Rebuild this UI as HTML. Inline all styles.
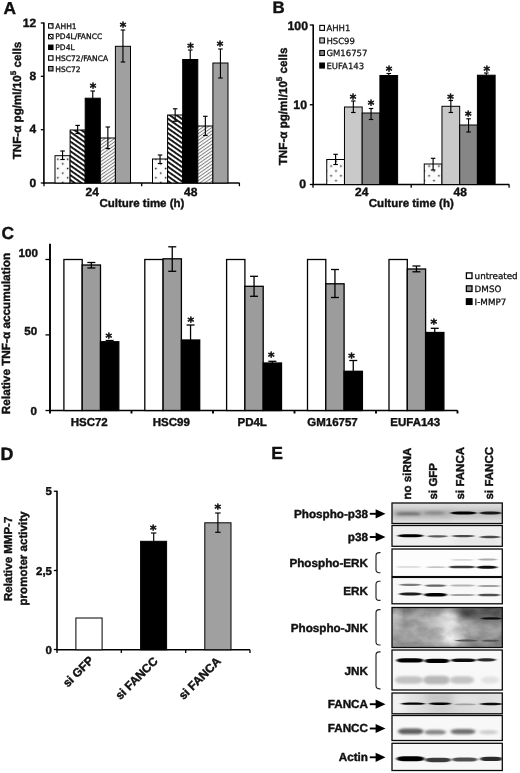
<!DOCTYPE html>
<html lang="en"><head><meta charset="utf-8"><title>Figure</title>
<style>
html,body{margin:0;padding:0;background:#fff;}
body{width:520px;height:773px;overflow:hidden;font-family:"Liberation Sans",Arial,sans-serif;}
svg{display:block}
</style></head><body>
<svg width="520" height="773" viewBox="0 0 520 773" text-rendering="geometricPrecision">
<rect width="520" height="773" fill="#fff"/>
<defs>
<pattern id="dots" width="9.8" height="9.3" patternUnits="userSpaceOnUse" x="60.2" y="161.5">
<rect width="9.8" height="9.3" fill="#fcfcfc"/>
<rect x="1.8" y="1.6" width="1.5" height="1.5" fill="#1a1a1a"/>
<rect x="6.7" y="6.25" width="1.5" height="1.5" fill="#1a1a1a"/>
</pattern>
<pattern id="dotsB" width="9.8" height="9.7" patternUnits="userSpaceOnUse" x="328.6" y="163.6">
<rect width="9.8" height="9.7" fill="#fcfcfc"/>
<rect x="1.75" y="1.75" width="1.5" height="1.5" fill="#1a1a1a"/>
<rect x="6.65" y="6.6" width="1.5" height="1.5" fill="#1a1a1a"/>
</pattern>
<pattern id="hb" width="3.93" height="3.93" patternUnits="userSpaceOnUse" patternTransform="rotate(35)">
<rect width="3.93" height="3.93" fill="#fff"/>
<rect width="3.93" height="1.85" fill="#0d0d0d"/>
</pattern>
<pattern id="hf" width="2.75" height="2.75" patternUnits="userSpaceOnUse" patternTransform="rotate(-35)">
<rect width="2.75" height="2.75" fill="#f8f8f8"/>
<rect width="2.75" height="0.9" fill="#808080"/>
</pattern>
<filter id="b1" x="-20%" y="-100%" width="140%" height="300%"><feGaussianBlur stdDeviation="1.1 0.8"/></filter>
<filter id="b2" x="-20%" y="-100%" width="140%" height="300%"><feGaussianBlur stdDeviation="1.8 1.4"/></filter>
<filter id="b3" x="-30%" y="-50%" width="160%" height="200%"><feGaussianBlur stdDeviation="4"/></filter>
<filter id="b4" x="-30%" y="-50%" width="160%" height="200%"><feGaussianBlur stdDeviation="7"/></filter>
</defs>
<text x="3.40" y="14.20" font-size="17.3" text-anchor="start" font-family="Liberation Sans, Arial, sans-serif" font-weight="bold" stroke="#111" stroke-width="0.4" fill="#111" >A</text>
<line x1="43.90" y1="22.50" x2="43.90" y2="183.50" stroke="#000" stroke-width="1.6"/>
<line x1="43.20" y1="183.00" x2="239.60" y2="183.00" stroke="#000" stroke-width="1.5"/>
<line x1="40.80" y1="23.00" x2="44.00" y2="23.00" stroke="#000" stroke-width="1.3"/>
<text x="36.20" y="26.70" font-size="12" text-anchor="end" font-family="Liberation Sans, Arial, sans-serif" font-weight="bold" stroke="#111" stroke-width="0.4" fill="#111" >12</text>
<line x1="40.80" y1="76.30" x2="44.00" y2="76.30" stroke="#000" stroke-width="1.3"/>
<text x="36.20" y="80.00" font-size="12" text-anchor="end" font-family="Liberation Sans, Arial, sans-serif" font-weight="bold" stroke="#111" stroke-width="0.4" fill="#111" >8</text>
<line x1="40.80" y1="129.70" x2="44.00" y2="129.70" stroke="#000" stroke-width="1.3"/>
<text x="36.20" y="133.40" font-size="12" text-anchor="end" font-family="Liberation Sans, Arial, sans-serif" font-weight="bold" stroke="#111" stroke-width="0.4" fill="#111" >4</text>
<line x1="40.80" y1="183.00" x2="44.00" y2="183.00" stroke="#000" stroke-width="1.3"/>
<text x="36.20" y="186.70" font-size="12" text-anchor="end" font-family="Liberation Sans, Arial, sans-serif" font-weight="bold" stroke="#111" stroke-width="0.4" fill="#111" >0</text>
<line x1="44.00" y1="183.00" x2="44.00" y2="186.20" stroke="#000" stroke-width="1.3"/>
<line x1="141.70" y1="183.00" x2="141.70" y2="186.20" stroke="#000" stroke-width="1.3"/>
<line x1="239.40" y1="183.00" x2="239.40" y2="186.20" stroke="#000" stroke-width="1.3"/>
<rect x="55.00" y="155.70" width="15.10" height="27.30" fill="url(#dots)" stroke="#000" stroke-width="1.0" />
<line x1="62.55" y1="151.00" x2="62.55" y2="159.50" stroke="#000" stroke-width="1.15"/>
<line x1="60.30" y1="151.00" x2="64.80" y2="151.00" stroke="#000" stroke-width="1.15"/>
<line x1="60.30" y1="159.50" x2="64.80" y2="159.50" stroke="#000" stroke-width="1.15"/>
<rect x="70.10" y="130.00" width="15.10" height="53.00" fill="url(#hb)" stroke="#000" stroke-width="1.0" />
<line x1="77.65" y1="125.40" x2="77.65" y2="133.50" stroke="#000" stroke-width="1.15"/>
<line x1="75.40" y1="125.40" x2="79.90" y2="125.40" stroke="#000" stroke-width="1.15"/>
<line x1="75.40" y1="133.50" x2="79.90" y2="133.50" stroke="#000" stroke-width="1.15"/>
<rect x="85.20" y="98.20" width="15.10" height="84.80" fill="#000" stroke="#000" stroke-width="1.0" />
<line x1="92.75" y1="91.00" x2="92.75" y2="98.20" stroke="#000" stroke-width="1.15"/>
<line x1="90.45" y1="91.00" x2="95.05" y2="91.00" stroke="#000" stroke-width="1.15"/>
<rect x="100.30" y="138.00" width="15.10" height="45.00" fill="url(#hf)" stroke="#000" stroke-width="1.0" />
<line x1="107.85" y1="127.00" x2="107.85" y2="148.60" stroke="#000" stroke-width="1.15"/>
<line x1="105.60" y1="127.00" x2="110.10" y2="127.00" stroke="#000" stroke-width="1.15"/>
<line x1="105.60" y1="148.60" x2="110.10" y2="148.60" stroke="#000" stroke-width="1.15"/>
<rect x="115.40" y="46.30" width="15.10" height="136.70" fill="#a0a0a0" stroke="#000" stroke-width="1.0" />
<line x1="122.95" y1="30.00" x2="122.95" y2="62.00" stroke="#000" stroke-width="1.15"/>
<line x1="120.70" y1="30.00" x2="125.20" y2="30.00" stroke="#000" stroke-width="1.15"/>
<line x1="120.70" y1="62.00" x2="125.20" y2="62.00" stroke="#000" stroke-width="1.15"/>
<rect x="152.50" y="159.00" width="15.10" height="24.00" fill="url(#dots)" stroke="#000" stroke-width="1.0" />
<line x1="160.05" y1="155.00" x2="160.05" y2="163.50" stroke="#000" stroke-width="1.15"/>
<line x1="157.80" y1="155.00" x2="162.30" y2="155.00" stroke="#000" stroke-width="1.15"/>
<line x1="157.80" y1="163.50" x2="162.30" y2="163.50" stroke="#000" stroke-width="1.15"/>
<rect x="167.60" y="115.00" width="15.10" height="68.00" fill="url(#hb)" stroke="#000" stroke-width="1.0" />
<line x1="175.15" y1="108.80" x2="175.15" y2="121.30" stroke="#000" stroke-width="1.15"/>
<line x1="172.90" y1="108.80" x2="177.40" y2="108.80" stroke="#000" stroke-width="1.15"/>
<line x1="172.90" y1="121.30" x2="177.40" y2="121.30" stroke="#000" stroke-width="1.15"/>
<rect x="182.70" y="59.50" width="15.10" height="123.50" fill="#000" stroke="#000" stroke-width="1.0" />
<line x1="190.25" y1="50.00" x2="190.25" y2="59.50" stroke="#000" stroke-width="1.15"/>
<line x1="187.95" y1="50.00" x2="192.55" y2="50.00" stroke="#000" stroke-width="1.15"/>
<rect x="197.80" y="126.00" width="15.10" height="57.00" fill="url(#hf)" stroke="#000" stroke-width="1.0" />
<line x1="205.35" y1="116.30" x2="205.35" y2="135.50" stroke="#000" stroke-width="1.15"/>
<line x1="203.10" y1="116.30" x2="207.60" y2="116.30" stroke="#000" stroke-width="1.15"/>
<line x1="203.10" y1="135.50" x2="207.60" y2="135.50" stroke="#000" stroke-width="1.15"/>
<rect x="212.90" y="63.00" width="15.10" height="120.00" fill="#a0a0a0" stroke="#000" stroke-width="1.0" />
<line x1="220.45" y1="49.00" x2="220.45" y2="78.00" stroke="#000" stroke-width="1.15"/>
<line x1="218.20" y1="49.00" x2="222.70" y2="49.00" stroke="#000" stroke-width="1.15"/>
<line x1="218.20" y1="78.00" x2="222.70" y2="78.00" stroke="#000" stroke-width="1.15"/>
<text x="93.00" y="91.75" font-size="12.5" text-anchor="middle" font-family="DejaVu Sans, Verdana, sans-serif" font-weight="bold" fill="#111" stroke="#111" stroke-width="0.5">*</text>
<text x="123.00" y="30.75" font-size="12.5" text-anchor="middle" font-family="DejaVu Sans, Verdana, sans-serif" font-weight="bold" fill="#111" stroke="#111" stroke-width="0.5">*</text>
<text x="190.50" y="51.75" font-size="12.5" text-anchor="middle" font-family="DejaVu Sans, Verdana, sans-serif" font-weight="bold" fill="#111" stroke="#111" stroke-width="0.5">*</text>
<text x="220.00" y="50.25" font-size="12.5" text-anchor="middle" font-family="DejaVu Sans, Verdana, sans-serif" font-weight="bold" fill="#111" stroke="#111" stroke-width="0.5">*</text>
<text x="92.30" y="196.00" font-size="12" text-anchor="middle" font-family="Liberation Sans, Arial, sans-serif" font-weight="bold" stroke="#111" stroke-width="0.4" fill="#111" >24</text>
<text x="190.70" y="195.90" font-size="12" text-anchor="middle" font-family="Liberation Sans, Arial, sans-serif" font-weight="bold" stroke="#111" stroke-width="0.4" fill="#111" >48</text>
<text x="141.90" y="207.10" font-size="11.5" text-anchor="middle" font-family="Liberation Sans, Arial, sans-serif" font-weight="bold" stroke="#111" stroke-width="0.4" fill="#111" >Culture time (h)</text>
<text transform="translate(20.8,100.5) rotate(-90)" font-size="11.65" text-anchor="middle" font-family="Liberation Sans, Arial, sans-serif" font-weight="bold" stroke="#111" stroke-width="0.4" fill="#111">TNF-α pg/ml/10<tspan font-size="8" dy="-4.5">5</tspan><tspan dy="4.5"> cells</tspan></text>
<rect x="48.60" y="23.70" width="4.40" height="4.40" fill="#fff" stroke="#000" stroke-width="1.1" />
<text x="55.30" y="28.70" font-size="7.55" text-anchor="start" font-family="DejaVu Sans, Verdana, sans-serif" fill="#111" stroke="#111" stroke-width="0.3">AHH1</text>
<rect x="48.60" y="34.40" width="4.40" height="4.40" fill="#fff" stroke="#000" stroke-width="1.1" />
<text x="55.30" y="39.40" font-size="7.55" text-anchor="start" font-family="DejaVu Sans, Verdana, sans-serif" fill="#111" stroke="#111" stroke-width="0.3">PD4L/FANCC</text>
<rect x="48.60" y="45.10" width="4.40" height="4.40" fill="#000" stroke="#000" stroke-width="1.1" />
<text x="55.30" y="50.10" font-size="7.55" text-anchor="start" font-family="DejaVu Sans, Verdana, sans-serif" fill="#111" stroke="#111" stroke-width="0.3">PD4L</text>
<rect x="48.60" y="55.80" width="4.40" height="4.40" fill="#fff" stroke="#000" stroke-width="1.1" />
<text x="55.30" y="60.80" font-size="7.55" text-anchor="start" font-family="DejaVu Sans, Verdana, sans-serif" fill="#111" stroke="#111" stroke-width="0.3">HSC72/FANCA</text>
<rect x="48.60" y="66.50" width="4.40" height="4.40" fill="#a0a0a0" stroke="#000" stroke-width="1.1" />
<text x="55.30" y="71.50" font-size="7.55" text-anchor="start" font-family="DejaVu Sans, Verdana, sans-serif" fill="#111" stroke="#111" stroke-width="0.3">HSC72</text>
<rect x="51.30" y="24.30" width="1.20" height="1.20" fill="#222" stroke="none" stroke-width="0" />
<line x1="49.00" y1="34.90" x2="52.60" y2="38.50" stroke="#111" stroke-width="1.0"/>
<text x="272.60" y="13.30" font-size="16.9" text-anchor="start" font-family="Liberation Sans, Arial, sans-serif" font-weight="bold" stroke="#111" stroke-width="0.4" fill="#111" >B</text>
<line x1="313.20" y1="24.50" x2="313.20" y2="185.00" stroke="#000" stroke-width="1.6"/>
<line x1="312.40" y1="184.50" x2="509.30" y2="184.50" stroke="#000" stroke-width="1.5"/>
<line x1="309.80" y1="25.00" x2="313.00" y2="25.00" stroke="#000" stroke-width="1.3"/>
<text x="308.00" y="30.30" font-size="12.3" text-anchor="end" font-family="Liberation Sans, Arial, sans-serif" font-weight="bold" stroke="#111" stroke-width="0.4" fill="#111" >100</text>
<line x1="309.80" y1="104.75" x2="313.00" y2="104.75" stroke="#000" stroke-width="1.3"/>
<text x="307.00" y="108.50" font-size="12.3" text-anchor="end" font-family="Liberation Sans, Arial, sans-serif" font-weight="bold" stroke="#111" stroke-width="0.4" fill="#111" >10</text>
<line x1="309.80" y1="184.50" x2="313.00" y2="184.50" stroke="#000" stroke-width="1.3"/>
<text x="306.00" y="187.90" font-size="12.3" text-anchor="end" font-family="Liberation Sans, Arial, sans-serif" font-weight="bold" stroke="#111" stroke-width="0.4" fill="#111" >0</text>
<line x1="313.00" y1="184.50" x2="313.00" y2="187.70" stroke="#000" stroke-width="1.3"/>
<line x1="411.20" y1="184.50" x2="411.20" y2="187.70" stroke="#000" stroke-width="1.3"/>
<line x1="509.10" y1="184.50" x2="509.10" y2="187.70" stroke="#000" stroke-width="1.3"/>
<rect x="326.75" y="159.50" width="17.72" height="25.00" fill="url(#dotsB)" stroke="#000" stroke-width="1.0" />
<line x1="335.61" y1="154.30" x2="335.61" y2="164.50" stroke="#000" stroke-width="1.15"/>
<line x1="333.36" y1="154.30" x2="337.86" y2="154.30" stroke="#000" stroke-width="1.15"/>
<line x1="333.36" y1="164.50" x2="337.86" y2="164.50" stroke="#000" stroke-width="1.15"/>
<rect x="344.47" y="107.00" width="17.72" height="77.50" fill="#c9c9c9" stroke="#000" stroke-width="1.0" />
<line x1="353.33" y1="101.00" x2="353.33" y2="112.50" stroke="#000" stroke-width="1.15"/>
<line x1="351.08" y1="101.00" x2="355.58" y2="101.00" stroke="#000" stroke-width="1.15"/>
<line x1="351.08" y1="112.50" x2="355.58" y2="112.50" stroke="#000" stroke-width="1.15"/>
<rect x="362.19" y="113.00" width="17.72" height="71.50" fill="#868686" stroke="#000" stroke-width="1.0" />
<line x1="371.05" y1="108.50" x2="371.05" y2="119.50" stroke="#000" stroke-width="1.15"/>
<line x1="368.80" y1="108.50" x2="373.30" y2="108.50" stroke="#000" stroke-width="1.15"/>
<line x1="368.80" y1="119.50" x2="373.30" y2="119.50" stroke="#000" stroke-width="1.15"/>
<rect x="379.91" y="75.50" width="17.72" height="109.00" fill="#000" stroke="#000" stroke-width="1.0" />
<line x1="388.77" y1="73.50" x2="388.77" y2="75.50" stroke="#000" stroke-width="1.15"/>
<line x1="386.47" y1="73.50" x2="391.07" y2="73.50" stroke="#000" stroke-width="1.15"/>
<rect x="424.25" y="164.00" width="17.72" height="20.50" fill="url(#dotsB)" stroke="#000" stroke-width="1.0" />
<line x1="433.11" y1="158.30" x2="433.11" y2="170.00" stroke="#000" stroke-width="1.15"/>
<line x1="430.86" y1="158.30" x2="435.36" y2="158.30" stroke="#000" stroke-width="1.15"/>
<line x1="430.86" y1="170.00" x2="435.36" y2="170.00" stroke="#000" stroke-width="1.15"/>
<rect x="441.97" y="106.30" width="17.72" height="78.20" fill="#c9c9c9" stroke="#000" stroke-width="1.0" />
<line x1="450.83" y1="100.50" x2="450.83" y2="112.50" stroke="#000" stroke-width="1.15"/>
<line x1="448.58" y1="100.50" x2="453.08" y2="100.50" stroke="#000" stroke-width="1.15"/>
<line x1="448.58" y1="112.50" x2="453.08" y2="112.50" stroke="#000" stroke-width="1.15"/>
<rect x="459.69" y="125.00" width="17.72" height="59.50" fill="#868686" stroke="#000" stroke-width="1.0" />
<line x1="468.55" y1="118.80" x2="468.55" y2="132.00" stroke="#000" stroke-width="1.15"/>
<line x1="466.30" y1="118.80" x2="470.80" y2="118.80" stroke="#000" stroke-width="1.15"/>
<line x1="466.30" y1="132.00" x2="470.80" y2="132.00" stroke="#000" stroke-width="1.15"/>
<rect x="477.41" y="75.20" width="17.72" height="109.30" fill="#000" stroke="#000" stroke-width="1.0" />
<line x1="486.27" y1="73.00" x2="486.27" y2="75.20" stroke="#000" stroke-width="1.15"/>
<line x1="483.97" y1="73.00" x2="488.57" y2="73.00" stroke="#000" stroke-width="1.15"/>
<text x="353.00" y="103.05" font-size="12.5" text-anchor="middle" font-family="DejaVu Sans, Verdana, sans-serif" font-weight="bold" fill="#111" stroke="#111" stroke-width="0.5">*</text>
<text x="371.00" y="109.05" font-size="12.5" text-anchor="middle" font-family="DejaVu Sans, Verdana, sans-serif" font-weight="bold" fill="#111" stroke="#111" stroke-width="0.5">*</text>
<text x="389.00" y="74.55" font-size="12.5" text-anchor="middle" font-family="DejaVu Sans, Verdana, sans-serif" font-weight="bold" fill="#111" stroke="#111" stroke-width="0.5">*</text>
<text x="450.50" y="103.25" font-size="12.5" text-anchor="middle" font-family="DejaVu Sans, Verdana, sans-serif" font-weight="bold" fill="#111" stroke="#111" stroke-width="0.5">*</text>
<text x="468.30" y="120.25" font-size="12.5" text-anchor="middle" font-family="DejaVu Sans, Verdana, sans-serif" font-weight="bold" fill="#111" stroke="#111" stroke-width="0.5">*</text>
<text x="486.70" y="75.45" font-size="12.5" text-anchor="middle" font-family="DejaVu Sans, Verdana, sans-serif" font-weight="bold" fill="#111" stroke="#111" stroke-width="0.5">*</text>
<text x="361.80" y="195.90" font-size="12" text-anchor="middle" font-family="Liberation Sans, Arial, sans-serif" font-weight="bold" stroke="#111" stroke-width="0.4" fill="#111" >24</text>
<text x="460.20" y="195.90" font-size="12" text-anchor="middle" font-family="Liberation Sans, Arial, sans-serif" font-weight="bold" stroke="#111" stroke-width="0.4" fill="#111" >48</text>
<text x="411.30" y="207.30" font-size="11.5" text-anchor="middle" font-family="Liberation Sans, Arial, sans-serif" font-weight="bold" stroke="#111" stroke-width="0.4" fill="#111" >Culture time (h)</text>
<text transform="translate(286.9,106.4) rotate(-90)" font-size="11.65" text-anchor="middle" font-family="Liberation Sans, Arial, sans-serif" font-weight="bold" stroke="#111" stroke-width="0.4" fill="#111">TNF-α pg/ml/10<tspan font-size="8" dy="-4.5">5</tspan><tspan dy="4.5"> cells</tspan></text>
<rect x="319.80" y="25.40" width="4.60" height="5.00" fill="#fff" stroke="#000" stroke-width="1.1" />
<text x="326.40" y="31.00" font-size="8.5" text-anchor="start" font-family="DejaVu Sans, Verdana, sans-serif" fill="#111" stroke="#111" stroke-width="0.25">AHH1</text>
<rect x="319.80" y="37.95" width="4.60" height="5.00" fill="#c9c9c9" stroke="#000" stroke-width="1.1" />
<text x="326.40" y="43.55" font-size="8.5" text-anchor="start" font-family="DejaVu Sans, Verdana, sans-serif" fill="#111" stroke="#111" stroke-width="0.25">HSC99</text>
<rect x="319.80" y="50.50" width="4.60" height="5.00" fill="#868686" stroke="#000" stroke-width="1.1" />
<text x="326.40" y="56.10" font-size="8.5" text-anchor="start" font-family="DejaVu Sans, Verdana, sans-serif" fill="#111" stroke="#111" stroke-width="0.25">GM16757</text>
<rect x="319.80" y="63.05" width="4.60" height="5.00" fill="#000" stroke="#000" stroke-width="1.1" />
<text x="326.40" y="68.65" font-size="8.5" text-anchor="start" font-family="DejaVu Sans, Verdana, sans-serif" fill="#111" stroke="#111" stroke-width="0.25">EUFA143</text>
<text x="1.50" y="239.30" font-size="17.4" text-anchor="start" font-family="Liberation Sans, Arial, sans-serif" font-weight="bold" stroke="#111" stroke-width="0.4" fill="#111" >C</text>
<line x1="50.00" y1="243.75" x2="50.00" y2="411.00" stroke="#000" stroke-width="1.9"/>
<line x1="49.10" y1="410.50" x2="457.50" y2="410.50" stroke="#000" stroke-width="1.7"/>
<line x1="45.50" y1="259.50" x2="50.00" y2="259.50" stroke="#000" stroke-width="1.3"/>
<text x="37.90" y="256.80" font-size="11.6" text-anchor="end" font-family="Liberation Sans, Arial, sans-serif" font-weight="bold" stroke="#111" stroke-width="0.4" fill="#111" >100</text>
<line x1="45.50" y1="334.90" x2="50.00" y2="334.90" stroke="#000" stroke-width="1.3"/>
<text x="37.20" y="334.80" font-size="11.6" text-anchor="end" font-family="Liberation Sans, Arial, sans-serif" font-weight="bold" stroke="#111" stroke-width="0.4" fill="#111" >50</text>
<line x1="45.50" y1="410.50" x2="50.00" y2="410.50" stroke="#000" stroke-width="1.3"/>
<text x="37.00" y="415.00" font-size="11.6" text-anchor="end" font-family="Liberation Sans, Arial, sans-serif" font-weight="bold" stroke="#111" stroke-width="0.4" fill="#111" >0</text>
<line x1="50.00" y1="410.50" x2="50.00" y2="413.50" stroke="#000" stroke-width="1.9"/>
<line x1="131.50" y1="410.50" x2="131.50" y2="413.50" stroke="#000" stroke-width="1.9"/>
<line x1="213.00" y1="410.50" x2="213.00" y2="413.50" stroke="#000" stroke-width="1.9"/>
<line x1="294.50" y1="410.50" x2="294.50" y2="413.50" stroke="#000" stroke-width="1.9"/>
<line x1="376.00" y1="410.50" x2="376.00" y2="413.50" stroke="#000" stroke-width="1.9"/>
<line x1="457.50" y1="410.50" x2="457.50" y2="413.50" stroke="#000" stroke-width="1.9"/>
<rect x="63.90" y="259.50" width="18.30" height="151.00" fill="#fff" stroke="#000" stroke-width="1.3" />
<rect x="82.20" y="265.00" width="18.30" height="145.50" fill="#9c9c9c" stroke="#000" stroke-width="1.3" />
<rect x="100.50" y="341.75" width="18.30" height="68.75" fill="#000" stroke="#000" stroke-width="1.3" />
<line x1="91.35" y1="262.50" x2="91.35" y2="268.00" stroke="#000" stroke-width="1.3"/>
<line x1="87.35" y1="262.50" x2="95.35" y2="262.50" stroke="#000" stroke-width="1.3"/>
<line x1="87.35" y1="268.00" x2="95.35" y2="268.00" stroke="#000" stroke-width="1.3"/>
<line x1="109.65" y1="340.50" x2="109.65" y2="341.75" stroke="#000" stroke-width="1.3"/>
<line x1="105.65" y1="340.50" x2="113.65" y2="340.50" stroke="#000" stroke-width="1.3"/>
<text x="108.80" y="341.55" font-size="12.5" text-anchor="middle" font-family="DejaVu Sans, Verdana, sans-serif" font-weight="bold" fill="#111" stroke="#111" stroke-width="0.5">*</text>
<text x="89.20" y="426.30" font-size="11.5" text-anchor="middle" font-family="Liberation Sans, Arial, sans-serif" font-weight="bold" stroke="#111" stroke-width="0.4" fill="#111" >HSC72</text>
<rect x="144.80" y="259.50" width="18.30" height="151.00" fill="#fff" stroke="#000" stroke-width="1.3" />
<rect x="163.10" y="258.80" width="18.30" height="151.70" fill="#9c9c9c" stroke="#000" stroke-width="1.3" />
<rect x="181.40" y="340.00" width="18.30" height="70.50" fill="#000" stroke="#000" stroke-width="1.3" />
<line x1="172.25" y1="246.80" x2="172.25" y2="271.30" stroke="#000" stroke-width="1.3"/>
<line x1="168.25" y1="246.80" x2="176.25" y2="246.80" stroke="#000" stroke-width="1.3"/>
<line x1="168.25" y1="271.30" x2="176.25" y2="271.30" stroke="#000" stroke-width="1.3"/>
<line x1="190.55" y1="325.00" x2="190.55" y2="340.00" stroke="#000" stroke-width="1.3"/>
<line x1="186.55" y1="325.00" x2="194.55" y2="325.00" stroke="#000" stroke-width="1.3"/>
<text x="190.80" y="325.75" font-size="12.5" text-anchor="middle" font-family="DejaVu Sans, Verdana, sans-serif" font-weight="bold" fill="#111" stroke="#111" stroke-width="0.5">*</text>
<text x="171.30" y="426.30" font-size="11.5" text-anchor="middle" font-family="Liberation Sans, Arial, sans-serif" font-weight="bold" stroke="#111" stroke-width="0.4" fill="#111" >HSC99</text>
<rect x="226.60" y="259.50" width="18.30" height="151.00" fill="#fff" stroke="#000" stroke-width="1.3" />
<rect x="244.90" y="286.30" width="18.30" height="124.20" fill="#9c9c9c" stroke="#000" stroke-width="1.3" />
<rect x="263.20" y="363.00" width="18.30" height="47.50" fill="#000" stroke="#000" stroke-width="1.3" />
<line x1="254.05" y1="276.30" x2="254.05" y2="296.30" stroke="#000" stroke-width="1.3"/>
<line x1="250.05" y1="276.30" x2="258.05" y2="276.30" stroke="#000" stroke-width="1.3"/>
<line x1="250.05" y1="296.30" x2="258.05" y2="296.30" stroke="#000" stroke-width="1.3"/>
<line x1="272.35" y1="361.30" x2="272.35" y2="363.00" stroke="#000" stroke-width="1.3"/>
<line x1="268.35" y1="361.30" x2="276.35" y2="361.30" stroke="#000" stroke-width="1.3"/>
<text x="271.30" y="361.25" font-size="12.5" text-anchor="middle" font-family="DejaVu Sans, Verdana, sans-serif" font-weight="bold" fill="#111" stroke="#111" stroke-width="0.5">*</text>
<text x="252.20" y="426.30" font-size="11.5" text-anchor="middle" font-family="Liberation Sans, Arial, sans-serif" font-weight="bold" stroke="#111" stroke-width="0.4" fill="#111" >PD4L</text>
<rect x="307.50" y="259.50" width="18.30" height="151.00" fill="#fff" stroke="#000" stroke-width="1.3" />
<rect x="325.80" y="283.80" width="18.30" height="126.70" fill="#9c9c9c" stroke="#000" stroke-width="1.3" />
<rect x="344.10" y="371.30" width="18.30" height="39.20" fill="#000" stroke="#000" stroke-width="1.3" />
<line x1="334.95" y1="269.50" x2="334.95" y2="297.50" stroke="#000" stroke-width="1.3"/>
<line x1="330.95" y1="269.50" x2="338.95" y2="269.50" stroke="#000" stroke-width="1.3"/>
<line x1="330.95" y1="297.50" x2="338.95" y2="297.50" stroke="#000" stroke-width="1.3"/>
<line x1="353.25" y1="360.50" x2="353.25" y2="371.30" stroke="#000" stroke-width="1.3"/>
<line x1="349.25" y1="360.50" x2="357.25" y2="360.50" stroke="#000" stroke-width="1.3"/>
<text x="351.50" y="361.75" font-size="12.5" text-anchor="middle" font-family="DejaVu Sans, Verdana, sans-serif" font-weight="bold" fill="#111" stroke="#111" stroke-width="0.5">*</text>
<text x="332.50" y="426.30" font-size="11.5" text-anchor="middle" font-family="Liberation Sans, Arial, sans-serif" font-weight="bold" stroke="#111" stroke-width="0.4" fill="#111" >GM16757</text>
<rect x="389.00" y="259.50" width="18.30" height="151.00" fill="#fff" stroke="#000" stroke-width="1.3" />
<rect x="407.30" y="269.00" width="18.30" height="141.50" fill="#9c9c9c" stroke="#000" stroke-width="1.3" />
<rect x="425.60" y="332.50" width="18.30" height="78.00" fill="#000" stroke="#000" stroke-width="1.3" />
<line x1="416.45" y1="266.00" x2="416.45" y2="271.80" stroke="#000" stroke-width="1.3"/>
<line x1="412.45" y1="266.00" x2="420.45" y2="266.00" stroke="#000" stroke-width="1.3"/>
<line x1="412.45" y1="271.80" x2="420.45" y2="271.80" stroke="#000" stroke-width="1.3"/>
<line x1="434.75" y1="328.30" x2="434.75" y2="332.50" stroke="#000" stroke-width="1.3"/>
<line x1="430.75" y1="328.30" x2="438.75" y2="328.30" stroke="#000" stroke-width="1.3"/>
<text x="433.80" y="328.25" font-size="12.5" text-anchor="middle" font-family="DejaVu Sans, Verdana, sans-serif" font-weight="bold" fill="#111" stroke="#111" stroke-width="0.5">*</text>
<text x="415.20" y="426.30" font-size="11.5" text-anchor="middle" font-family="Liberation Sans, Arial, sans-serif" font-weight="bold" stroke="#111" stroke-width="0.4" fill="#111" >EUFA143</text>
<text transform="translate(9.7,333.5) rotate(-90)" font-size="11.75" text-anchor="middle" font-family="Liberation Sans, Arial, sans-serif" font-weight="bold" stroke="#111" stroke-width="0.4" fill="#111">Relative TNF-α accumulation</text>
<rect x="466.40" y="272.90" width="5.60" height="5.60" fill="#fff" stroke="#000" stroke-width="1.3" />
<text x="474.60" y="278.90" font-size="8.75" text-anchor="start" font-family="DejaVu Sans, Verdana, sans-serif" fill="#111" stroke="#111" stroke-width="0.3">untreated</text>
<rect x="466.40" y="285.85" width="5.60" height="5.60" fill="#9c9c9c" stroke="#000" stroke-width="1.3" />
<text x="474.60" y="291.85" font-size="8.75" text-anchor="start" font-family="DejaVu Sans, Verdana, sans-serif" fill="#111" stroke="#111" stroke-width="0.3">DMSO</text>
<rect x="466.40" y="298.80" width="5.60" height="5.60" fill="#000" stroke="#000" stroke-width="1.3" />
<text x="474.60" y="304.80" font-size="8.75" text-anchor="start" font-family="DejaVu Sans, Verdana, sans-serif" fill="#111" stroke="#111" stroke-width="0.3">I-MMP7</text>
<text x="0.50" y="460.20" font-size="17.9" text-anchor="start" font-family="Liberation Sans, Arial, sans-serif" font-weight="bold" stroke="#111" stroke-width="0.4" fill="#111" >D</text>
<line x1="57.00" y1="490.75" x2="57.00" y2="650.25" stroke="#000" stroke-width="1.6"/>
<line x1="56.20" y1="649.75" x2="250.00" y2="649.75" stroke="#000" stroke-width="1.5"/>
<line x1="53.80" y1="491.25" x2="57.00" y2="491.25" stroke="#000" stroke-width="1.3"/>
<text x="52.00" y="495.45" font-size="11.5" text-anchor="end" font-family="Liberation Sans, Arial, sans-serif" font-weight="bold" stroke="#111" stroke-width="0.4" fill="#111" >5</text>
<line x1="53.80" y1="570.50" x2="57.00" y2="570.50" stroke="#000" stroke-width="1.3"/>
<text x="52.00" y="574.70" font-size="11.5" text-anchor="end" font-family="Liberation Sans, Arial, sans-serif" font-weight="bold" stroke="#111" stroke-width="0.4" fill="#111" >2,5</text>
<line x1="53.80" y1="649.50" x2="57.00" y2="649.50" stroke="#000" stroke-width="1.3"/>
<text x="52.00" y="653.70" font-size="11.5" text-anchor="end" font-family="Liberation Sans, Arial, sans-serif" font-weight="bold" stroke="#111" stroke-width="0.4" fill="#111" >0</text>
<line x1="57.00" y1="649.75" x2="57.00" y2="652.95" stroke="#000" stroke-width="1.3"/>
<line x1="121.30" y1="649.75" x2="121.30" y2="652.95" stroke="#000" stroke-width="1.3"/>
<line x1="185.70" y1="649.75" x2="185.70" y2="652.95" stroke="#000" stroke-width="1.3"/>
<line x1="250.00" y1="649.75" x2="250.00" y2="652.95" stroke="#000" stroke-width="1.3"/>
<rect x="75.90" y="618.00" width="26.20" height="31.75" fill="#fff" stroke="#000" stroke-width="1.0" />
<rect x="140.60" y="541.30" width="26.00" height="108.45" fill="#000" stroke="#000" stroke-width="1.0" />
<rect x="204.80" y="522.80" width="26.20" height="126.95" fill="#a0a0a0" stroke="#000" stroke-width="1.0" />
<line x1="153.70" y1="533.00" x2="153.70" y2="541.30" stroke="#000" stroke-width="1.15"/>
<line x1="151.00" y1="533.00" x2="156.40" y2="533.00" stroke="#000" stroke-width="1.15"/>
<line x1="217.90" y1="513.00" x2="217.90" y2="532.30" stroke="#000" stroke-width="1.15"/>
<line x1="215.15" y1="513.00" x2="220.65" y2="513.00" stroke="#000" stroke-width="1.15"/>
<line x1="215.15" y1="532.30" x2="220.65" y2="532.30" stroke="#000" stroke-width="1.15"/>
<text x="153.30" y="534.25" font-size="12.5" text-anchor="middle" font-family="DejaVu Sans, Verdana, sans-serif" font-weight="bold" fill="#111" stroke="#111" stroke-width="0.5">*</text>
<text x="217.80" y="512.75" font-size="12.5" text-anchor="middle" font-family="DejaVu Sans, Verdana, sans-serif" font-weight="bold" fill="#111" stroke="#111" stroke-width="0.5">*</text>
<text transform="translate(12.4,558.9) rotate(-90)" font-size="11.5" text-anchor="middle" font-family="Liberation Sans, Arial, sans-serif" font-weight="bold" stroke="#111" stroke-width="0.4" fill="#111">Relative MMP-7</text>
<text transform="translate(27.0,558.5) rotate(-90)" font-size="11.6" text-anchor="middle" font-family="Liberation Sans, Arial, sans-serif" font-weight="bold" stroke="#111" stroke-width="0.4" fill="#111">promoter activity</text>
<text transform="translate(94.3,661.2) rotate(-45)" font-size="11.9" text-anchor="end" font-family="Liberation Sans, Arial, sans-serif" font-weight="bold" stroke="#111" stroke-width="0.4" fill="#111">si GFP</text>
<text transform="translate(158.5,662) rotate(-45)" font-size="11.9" text-anchor="end" font-family="Liberation Sans, Arial, sans-serif" font-weight="bold" stroke="#111" stroke-width="0.4" fill="#111">si FANCC</text>
<text transform="translate(221.7,662) rotate(-45)" font-size="11.9" text-anchor="end" font-family="Liberation Sans, Arial, sans-serif" font-weight="bold" stroke="#111" stroke-width="0.4" fill="#111">si FANCA</text>
<text x="271.20" y="459.15" font-size="17.5" text-anchor="start" font-family="Liberation Sans, Arial, sans-serif" font-weight="bold" stroke="#111" stroke-width="0.4" fill="#111" >E</text>
<text transform="translate(411.1,499.4) rotate(-90)" font-size="11.5" text-anchor="start" font-family="Liberation Sans, Arial, sans-serif" font-weight="bold" stroke="#111" stroke-width="0.4" fill="#111">no siRNA</text>
<text transform="translate(437,499.4) rotate(-90)" font-size="11.5" text-anchor="start" font-family="Liberation Sans, Arial, sans-serif" font-weight="bold" stroke="#111" stroke-width="0.4" fill="#111">si GFP</text>
<text transform="translate(464.4,499.4) rotate(-90)" font-size="11.5" text-anchor="start" font-family="Liberation Sans, Arial, sans-serif" font-weight="bold" stroke="#111" stroke-width="0.4" fill="#111">si FANCA</text>
<text transform="translate(492.8,499.4) rotate(-90)" font-size="11.5" text-anchor="start" font-family="Liberation Sans, Arial, sans-serif" font-weight="bold" stroke="#111" stroke-width="0.4" fill="#111">si FANCC</text>
<linearGradient id="g0" x1="0" y1="0" x2="0" y2="1"><stop offset="0" stop-color="#dcdcdc"/><stop offset="0.5" stop-color="#c6c6c6"/><stop offset="1" stop-color="#e8e8e8"/></linearGradient>
<linearGradient id="g6" x1="0" y1="0" x2="1" y2="0"><stop offset="0" stop-color="#ececec"/><stop offset="0.45" stop-color="#d2d2d2"/><stop offset="1" stop-color="#e2e2e2"/></linearGradient>
<linearGradient id="g4" x1="0" y1="0" x2="1" y2="0"><stop offset="0" stop-color="#a2a2a2"/><stop offset="0.45" stop-color="#b4b4b4"/><stop offset="0.55" stop-color="#cfcfcf"/><stop offset="0.7" stop-color="#9a9a9a"/><stop offset="1" stop-color="#8c8c8c"/></linearGradient>
<filter id="e1" x="-30%" y="-150%" width="160%" height="400%"><feGaussianBlur stdDeviation="1.4 0.7"/></filter>
<filter id="e2" x="-30%" y="-150%" width="160%" height="400%"><feGaussianBlur stdDeviation="1.8 1.2"/></filter>
<filter id="e3" x="-50%" y="-100%" width="200%" height="300%"><feGaussianBlur stdDeviation="3.5"/></filter>
<filter id="tb" x="0" y="0" width="100%" height="100%"><feTurbulence type="fractalNoise" baseFrequency="0.07 0.11" numOctaves="3" seed="7" result="n"/><feColorMatrix in="n" type="matrix" values="0 0 0 0 0  0 0 0 0 0  0 0 0 0 0  1.6 0 0 0 -0.55"/></filter>
<filter id="tw" x="0" y="0" width="100%" height="100%"><feTurbulence type="fractalNoise" baseFrequency="0.06 0.1" numOctaves="3" seed="23" result="n"/><feColorMatrix in="n" type="matrix" values="0 0 0 0 1  0 0 0 0 1  0 0 0 0 1  1.6 0 0 0 -0.55"/></filter>
<filter id="e4" x="-50%" y="-100%" width="200%" height="300%"><feGaussianBlur stdDeviation="6"/></filter>
<clipPath id="c0"><rect x="392" y="503" width="110.30000000000001" height="20.5"/></clipPath>
<rect x="392" y="503" width="110.3" height="20.5" fill="url(#g0)"/>
<g clip-path="url(#c0)">
<rect x="392" y="510.50" width="58" height="6" fill="#9a9a9a" opacity="0.8" filter="url(#e3)"/>
<rect x="446" y="510.00" width="57" height="6" fill="#aaa" opacity="0.6" filter="url(#e3)"/>
<rect x="392" y="503.50" width="111" height="3" fill="#f4f4f4" opacity="0.7" filter="url(#e3)"/>
<rect x="396" y="512.27" width="25.0" height="3.06" rx="7.0" ry="1.53" fill="#6e6e6e" opacity="1" filter="url(#e2)"/>
<rect x="424" y="511.56" width="21.0" height="2.89" rx="7.0" ry="1.45" fill="#858585" opacity="1" filter="url(#e2)"/>
<rect x="450.5" y="511.52" width="26.0" height="2.95" rx="7.0" ry="1.48" fill="#000" opacity="1" filter="url(#e1)"/>
<rect x="479.5" y="511.56" width="22.0" height="2.88" rx="7.0" ry="1.44" fill="#151515" opacity="1" filter="url(#e1)"/>
</g>
<rect x="392" y="503" width="110.3" height="20.5" fill="none" stroke="#0a0a0a" stroke-width="1.3"/>
<clipPath id="c1"><rect x="392" y="525.5" width="110.30000000000001" height="20.799999999999955"/></clipPath>
<rect x="392" y="525.5" width="110.3" height="20.8" fill="#f0f0f0"/>
<g clip-path="url(#c1)">
<rect x="455" y="540.00" width="45" height="3" fill="#d0d0d0" opacity="0.8" filter="url(#e3)"/>
<rect x="397.5" y="534.29" width="26.0" height="3.02" rx="7.0" ry="1.51" fill="#000" opacity="1" filter="url(#e1)"/>
<rect x="427.5" y="535.22" width="20.0" height="2.16" rx="7.0" ry="1.08" fill="#5a5a5a" opacity="1" filter="url(#e1)"/>
<rect x="452" y="535.02" width="22.5" height="2.16" rx="7.0" ry="1.08" fill="#4a4a4a" opacity="1" filter="url(#e1)"/>
<rect x="479.5" y="535.77" width="21.0" height="2.45" rx="7.0" ry="1.23" fill="#4a4a4a" opacity="1" filter="url(#e1)"/>
</g>
<rect x="392" y="525.5" width="110.3" height="20.8" fill="none" stroke="#0a0a0a" stroke-width="1.3"/>
<clipPath id="c2"><rect x="392" y="549" width="110.30000000000001" height="27.600000000000023"/></clipPath>
<rect x="392" y="549" width="110.3" height="27.6" fill="#fdfdfd"/>
<g clip-path="url(#c2)">
<rect x="396" y="566.07" width="25.0" height="1.87" rx="7.0" ry="0.94" fill="#e0e0e0" opacity="1" filter="url(#e1)"/>
<rect x="426" y="566.34" width="20.0" height="1.73" rx="7.0" ry="0.86" fill="#c4c4c4" opacity="1" filter="url(#e1)"/>
<rect x="449" y="565.63" width="26.0" height="2.74" rx="7.0" ry="1.37" fill="#3a3a3a" opacity="1" filter="url(#e1)"/>
<rect x="476.5" y="565.69" width="21.0" height="3.02" rx="7.0" ry="1.51" fill="#0a0a0a" opacity="1" filter="url(#e1)"/>
<rect x="451" y="558.93" width="23.0" height="1.73" rx="7.0" ry="0.86" fill="#d8d8d8" opacity="1" filter="url(#e1)"/>
<rect x="478" y="558.57" width="19.0" height="1.87" rx="7.0" ry="0.94" fill="#aaa" opacity="1" filter="url(#e1)"/>
</g>
<rect x="392" y="549" width="110.3" height="27.6" fill="none" stroke="#0a0a0a" stroke-width="1.3"/>
<clipPath id="c3"><rect x="392" y="577.4" width="110.30000000000001" height="26.399999999999977"/></clipPath>
<rect x="392" y="577.4" width="110.3" height="26.4" fill="#f8f8f8"/>
<g clip-path="url(#c3)">
<rect x="399.5" y="583.65" width="21.5" height="2.3" rx="7.0" ry="1.15" fill="#7a7a7a" opacity="1" filter="url(#e1)"/>
<rect x="425" y="584.45" width="21.0" height="2.3" rx="7.0" ry="1.15" fill="#666" opacity="1" filter="url(#e1)"/>
<rect x="450" y="584.57" width="25.0" height="1.87" rx="7.0" ry="0.94" fill="#b4b4b4" opacity="1" filter="url(#e1)"/>
<rect x="478" y="584.92" width="22.0" height="2.16" rx="7.0" ry="1.08" fill="#a0a0a0" opacity="1" filter="url(#e1)"/>
<rect x="399" y="592.56" width="23.0" height="2.88" rx="7.0" ry="1.44" fill="#1a1a1a" opacity="1" filter="url(#e1)"/>
<rect x="424" y="593.07" width="23.0" height="3.46" rx="7.0" ry="1.73" fill="#000" opacity="1" filter="url(#e1)"/>
<rect x="450" y="593.92" width="25.0" height="2.16" rx="7.0" ry="1.08" fill="#a0a0a0" opacity="1" filter="url(#e1)"/>
<rect x="478" y="593.71" width="22.0" height="2.59" rx="7.0" ry="1.29" fill="#505050" opacity="1" filter="url(#e1)"/>
</g>
<rect x="392" y="577.4" width="110.3" height="26.4" fill="none" stroke="#0a0a0a" stroke-width="1.3"/>
<clipPath id="c4"><rect x="392" y="607.5" width="110.30000000000001" height="40.0"/></clipPath>
<rect x="392" y="607.5" width="110.3" height="40.0" fill="url(#g4)"/>
<g clip-path="url(#c4)">
<rect x="392" y="607.00" width="111" height="5" fill="#4a4a4a" opacity="0.9" filter="url(#e3)"/>
<rect x="458" y="608.00" width="45" height="10" fill="#3a3a3a" opacity="0.95" filter="url(#e3)"/>
<rect x="392" y="645.30" width="111" height="3" fill="#555" opacity="0.8" filter="url(#e3)"/>
<rect x="394" y="609.00" width="6" height="18" fill="#eaeaea" opacity="0.8" filter="url(#e3)"/>
<rect x="402" y="622.00" width="7" height="12" fill="#777" opacity="0.6" filter="url(#e3)"/>
<rect x="440" y="614.00" width="17" height="26" fill="#efefef" opacity="0.9" filter="url(#e4)"/>
<rect x="446" y="635.00" width="11" height="8" fill="#fff" opacity="0.95" filter="url(#e3)"/>
<rect x="442" y="613.00" width="10" height="6" fill="#f4f4f4" opacity="0.7" filter="url(#e3)"/>
<rect x="410" y="613.00" width="26" height="14" fill="#bdbdbd" opacity="0.7" filter="url(#e4)"/>
<rect x="458" y="625.00" width="22" height="10" fill="#bdbdbd" opacity="0.7" filter="url(#e3)"/>
<rect x="482" y="625.00" width="21" height="10" fill="#b4b4b4" opacity="0.7" filter="url(#e3)"/>
<rect x="396" y="638.00" width="44" height="4" fill="#8f8f8f" opacity="0.6" filter="url(#e3)"/>
<rect x="392" y="607.5" width="110.3" height="40.0" filter="url(#tb)" opacity="0.22"/>
<rect x="392" y="607.5" width="110.3" height="40.0" filter="url(#tw)" opacity="0.2"/>
<rect x="481" y="617.32" width="21.0" height="2.16" rx="7.0" ry="1.08" fill="#0a0a0a" opacity="1" filter="url(#e1)"/>
<rect x="455.5" y="639.59" width="22.0" height="2.02" rx="7.0" ry="1.01" fill="#555" opacity="1" filter="url(#e1)"/>
<rect x="482" y="639.79" width="17.5" height="2.02" rx="6.7" ry="1.01" fill="#555" opacity="1" filter="url(#e1)"/>
</g>
<rect x="392" y="607.5" width="110.3" height="40.0" fill="none" stroke="#0a0a0a" stroke-width="1.3"/>
<clipPath id="c5"><rect x="392" y="650" width="110.30000000000001" height="40"/></clipPath>
<rect x="392" y="650" width="110.3" height="40.0" fill="#f8f8f8"/>
<g clip-path="url(#c5)">
<rect x="396.5" y="658.24" width="27.0" height="4.32" rx="7.0" ry="2.16" fill="#000" opacity="1" filter="url(#e1)"/>
<rect x="424.5" y="658.74" width="25.0" height="4.32" rx="7.0" ry="2.16" fill="#000" opacity="1" filter="url(#e1)"/>
<rect x="451" y="658.57" width="25.0" height="3.46" rx="7.0" ry="1.73" fill="#111" opacity="1" filter="url(#e1)"/>
<rect x="476.5" y="658.21" width="19.5" height="3.17" rx="7.0" ry="1.58" fill="#2a2a2a" opacity="1" filter="url(#e1)"/>
<rect x="395" y="676.17" width="28.0" height="7.65" rx="7.0" ry="3.83" fill="#c2c2c2" opacity="1" filter="url(#e2)"/>
<rect x="423" y="675.75" width="27.0" height="8.5" rx="7.0" ry="4.25" fill="#b8b8b8" opacity="1" filter="url(#e2)"/>
<rect x="450" y="676.17" width="24.0" height="7.65" rx="7.0" ry="3.83" fill="#c4c4c4" opacity="1" filter="url(#e2)"/>
<rect x="481" y="676.60" width="18.0" height="6.8" rx="6.9" ry="3.40" fill="#e2e2e2" opacity="1" filter="url(#e2)"/>
</g>
<rect x="392" y="650" width="110.3" height="40.0" fill="none" stroke="#0a0a0a" stroke-width="1.3"/>
<clipPath id="c6"><rect x="392" y="693" width="110.30000000000001" height="20.799999999999955"/></clipPath>
<rect x="392" y="693" width="110.3" height="20.8" fill="url(#g6)"/>
<g clip-path="url(#c6)">
<rect x="426" y="693.50" width="26" height="8" fill="#bcbcbc" opacity="0.8" filter="url(#e3)"/>
<rect x="392" y="693.00" width="12" height="20" fill="#f4f4f4" opacity="0.8" filter="url(#e3)"/>
<rect x="455" y="695.00" width="23" height="8" fill="#ececec" opacity="0.7" filter="url(#e3)"/>
<rect x="430" y="707.50" width="20" height="5" fill="#c8c8c8" opacity="0.7" filter="url(#e3)"/>
<rect x="401" y="702.55" width="24.0" height="2.3" rx="7.0" ry="1.15" fill="#000" opacity="1" filter="url(#e1)"/>
<rect x="429" y="702.48" width="22.0" height="2.45" rx="7.0" ry="1.23" fill="#000" opacity="1" filter="url(#e1)"/>
<rect x="454" y="703.61" width="22.0" height="1.58" rx="7.0" ry="0.79" fill="#a0a0a0" opacity="1" filter="url(#e1)"/>
<rect x="480" y="702.85" width="22.5" height="2.3" rx="7.0" ry="1.15" fill="#0a0a0a" opacity="1" filter="url(#e1)"/>
</g>
<rect x="392" y="693" width="110.3" height="20.8" fill="none" stroke="#0a0a0a" stroke-width="1.3"/>
<clipPath id="c7"><rect x="392" y="715.5" width="110.30000000000001" height="25.0"/></clipPath>
<rect x="392" y="715.5" width="110.3" height="25.0" fill="#f8f8f8"/>
<g clip-path="url(#c7)">
<rect x="398" y="728.42" width="25.5" height="5.95" rx="7.0" ry="2.98" fill="#5e5e5e" opacity="1" filter="url(#e2)"/>
<rect x="424.5" y="729.82" width="21.5" height="4.76" rx="7.0" ry="2.38" fill="#868686" opacity="1" filter="url(#e2)"/>
<rect x="450.5" y="728.97" width="25.0" height="5.27" rx="7.0" ry="2.63" fill="#707070" opacity="1" filter="url(#e2)"/>
<rect x="479" y="730.25" width="19.0" height="3.91" rx="7.0" ry="1.96" fill="#cccccc" opacity="1" filter="url(#e2)"/>
</g>
<rect x="392" y="715.5" width="110.3" height="25.0" fill="none" stroke="#0a0a0a" stroke-width="1.3"/>
<clipPath id="c8"><rect x="392" y="743.3" width="110.30000000000001" height="27.200000000000045"/></clipPath>
<rect x="392" y="743.3" width="110.3" height="27.2" fill="#f8f8f8"/>
<g clip-path="url(#c8)">
<rect x="396.5" y="756.28" width="28.0" height="5.04" rx="7.0" ry="2.52" fill="#000" opacity="1" filter="url(#e1)"/>
<rect x="425" y="757.67" width="26.0" height="4.46" rx="7.0" ry="2.23" fill="#3a3a3a" opacity="1" filter="url(#e1)"/>
<rect x="452" y="757.49" width="25.5" height="4.03" rx="7.0" ry="2.02" fill="#505050" opacity="1" filter="url(#e1)"/>
<rect x="480" y="756.74" width="22.5" height="4.32" rx="7.0" ry="2.16" fill="#2a2a2a" opacity="1" filter="url(#e1)"/>
</g>
<rect x="392" y="743.3" width="110.3" height="27.2" fill="none" stroke="#0a0a0a" stroke-width="1.3"/>
<text x="368.00" y="518.00" font-size="11.7" text-anchor="end" font-family="Liberation Sans, Arial, sans-serif" font-weight="bold" stroke="#111" stroke-width="0.4" fill="#111" >Phospho-p38</text>
<line x1="369.80" y1="513.80" x2="377.00" y2="513.80" stroke="#000" stroke-width="1.9"/>
<path d="M375.6,509.19999999999993 L385.5,513.8 L375.6,518.4 Z" fill="#000"/>
<text x="368.00" y="540.50" font-size="11.7" text-anchor="end" font-family="Liberation Sans, Arial, sans-serif" font-weight="bold" stroke="#111" stroke-width="0.4" fill="#111" >p38</text>
<line x1="369.80" y1="537.00" x2="377.00" y2="537.00" stroke="#000" stroke-width="1.9"/>
<path d="M375.6,532.4 L385.5,537 L375.6,541.6 Z" fill="#000"/>
<text x="368.00" y="567.00" font-size="11.7" text-anchor="end" font-family="Liberation Sans, Arial, sans-serif" font-weight="bold" stroke="#111" stroke-width="0.4" fill="#111" >Phospho-ERK</text>
<path d="M380.5,552.6 L379.2,552.6 Q376,552.6 376,555.8000000000001 L376,569.5 Q376,572.7 379.2,572.7 L380.5,572.7" fill="none" stroke="#222" stroke-width="1.15"/>
<text x="368.00" y="595.20" font-size="11.7" text-anchor="end" font-family="Liberation Sans, Arial, sans-serif" font-weight="bold" stroke="#111" stroke-width="0.4" fill="#111" >ERK</text>
<path d="M380.5,581.2 L379.2,581.2 Q376,581.2 376,584.4000000000001 L376,597.1999999999999 Q376,600.4 379.2,600.4 L380.5,600.4" fill="none" stroke="#222" stroke-width="1.15"/>
<text x="368.00" y="631.60" font-size="11.7" text-anchor="end" font-family="Liberation Sans, Arial, sans-serif" font-weight="bold" stroke="#111" stroke-width="0.4" fill="#111" >Phospho-JNK</text>
<path d="M380.5,609.6 L379.2,609.6 Q376,609.6 376,612.8000000000001 L376,641.8 Q376,645 379.2,645 L380.5,645" fill="none" stroke="#222" stroke-width="1.15"/>
<text x="368.00" y="674.80" font-size="11.7" text-anchor="end" font-family="Liberation Sans, Arial, sans-serif" font-weight="bold" stroke="#111" stroke-width="0.4" fill="#111" >JNK</text>
<path d="M380.5,651.8 L379.2,651.8 Q376,651.8 376,655.0 L376,685.5999999999999 Q376,688.8 379.2,688.8 L380.5,688.8" fill="none" stroke="#222" stroke-width="1.15"/>
<text x="368.00" y="707.80" font-size="11.7" text-anchor="end" font-family="Liberation Sans, Arial, sans-serif" font-weight="bold" stroke="#111" stroke-width="0.4" fill="#111" >FANCA</text>
<line x1="369.80" y1="704.20" x2="377.00" y2="704.20" stroke="#000" stroke-width="1.9"/>
<path d="M375.6,699.6 L385.5,704.2 L375.6,708.8000000000001 Z" fill="#000"/>
<text x="368.00" y="732.40" font-size="11.7" text-anchor="end" font-family="Liberation Sans, Arial, sans-serif" font-weight="bold" stroke="#111" stroke-width="0.4" fill="#111" >FANCC</text>
<line x1="369.80" y1="728.50" x2="377.00" y2="728.50" stroke="#000" stroke-width="1.9"/>
<path d="M375.6,723.9 L385.5,728.5 L375.6,733.1 Z" fill="#000"/>
<text x="368.00" y="761.20" font-size="11.7" text-anchor="end" font-family="Liberation Sans, Arial, sans-serif" font-weight="bold" stroke="#111" stroke-width="0.4" fill="#111" >Actin</text>
<line x1="369.80" y1="757.30" x2="377.00" y2="757.30" stroke="#000" stroke-width="1.9"/>
<path d="M375.6,752.6999999999999 L385.5,757.3 L375.6,761.9 Z" fill="#000"/>
</svg>
</body></html>
